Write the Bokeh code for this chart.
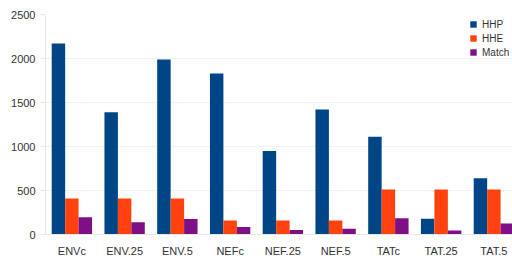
from bokeh.plotting import figure
from bokeh.models import ColumnDataSource, Legend, LegendItem, FixedTicker, Range1d
from bokeh.transform import dodge
from bokeh.embed import file_html
from bokeh.resources import INLINE

categories = ["ENVc", "ENV.25", "ENV.5", "NEFc", "NEF.25", "NEF.5", "TATc", "TAT.25", "TAT.5"]
hhp = [2170, 1390, 1990, 1830, 950, 1420, 1110, 180, 640]
hhe = [410, 410, 410, 160, 160, 160, 510, 510, 510]
match = [195, 140, 175, 85, 50, 65, 185, 45, 125]
y_ticks = [0, 500, 1000, 1500, 2000, 2500]

idx = list(range(len(categories)))
src = ColumnDataSource(dict(x=idx, hhp=hhp, hhe=hhe, match=match))

p = figure(x_range=Range1d(-0.5, 8.353), y_range=(0, 2500), width=512, height=259,
           output_backend="svg", toolbar_location=None,
           min_border_left=45, min_border_right=0, min_border_top=14, min_border_bottom=20)
p.outline_line_color = None
p.background_fill_color = "white"

w = 0.255
r1 = p.vbar(x=dodge("x", -0.255), top="hhp", width=w, source=src,
            fill_color="#004586", line_color=None)
r2 = p.vbar(x=dodge("x", 0.0), top="hhe", width=w, source=src,
            fill_color="#ff420e", line_color=None)
r3 = p.vbar(x=dodge("x", 0.255), top="match", width=w, source=src,
            fill_color="#7f0f86", line_color=None)

p.yaxis.ticker = FixedTicker(ticks=y_ticks)
p.yaxis.axis_line_color = "#e8e8e8"
p.yaxis.major_tick_line_color = "#e8e8e8"
p.yaxis.major_tick_out = 5
p.yaxis.major_tick_in = 0
p.yaxis.minor_tick_line_color = None
p.yaxis.major_label_text_font = "Liberation Sans"
p.yaxis.major_label_text_font_size = "11px"
p.yaxis.major_label_text_color = "#333333"
p.yaxis.major_label_standoff = 5

p.xaxis.ticker = FixedTicker(ticks=idx)
p.xaxis.major_label_overrides = {i: c for i, c in zip(idx, categories)}
p.xaxis.axis_line_color = "#e8e8e8"
p.xaxis.major_tick_line_color = None
p.xaxis.minor_tick_line_color = None
p.xaxis.major_label_text_font = "Liberation Sans"
p.xaxis.major_label_text_font_size = "11px"
p.xaxis.major_label_text_color = "#333333"
p.xaxis.major_label_standoff = 4

p.xgrid.grid_line_color = None
p.ygrid.grid_line_color = "#f2f2f2"

legend = Legend(items=[LegendItem(label="HHP", renderers=[r1]),
                       LegendItem(label="HHE", renderers=[r2]),
                       LegendItem(label="Match", renderers=[r3])],
                location=(424, 176))
legend.border_line_color = None
legend.background_fill_color = "white"
legend.background_fill_alpha = 1
legend.label_text_font = "Liberation Sans"
legend.label_text_font_size = "10px"
legend.label_text_color = "#333333"
legend.glyph_width = 8
legend.glyph_height = 8
legend.spacing = 2
legend.label_height = 12
legend.label_standoff = 5
legend.padding = 2
legend.margin = 0
p.add_layout(legend)

open("out.html", "w").write(file_html(p, INLINE))
